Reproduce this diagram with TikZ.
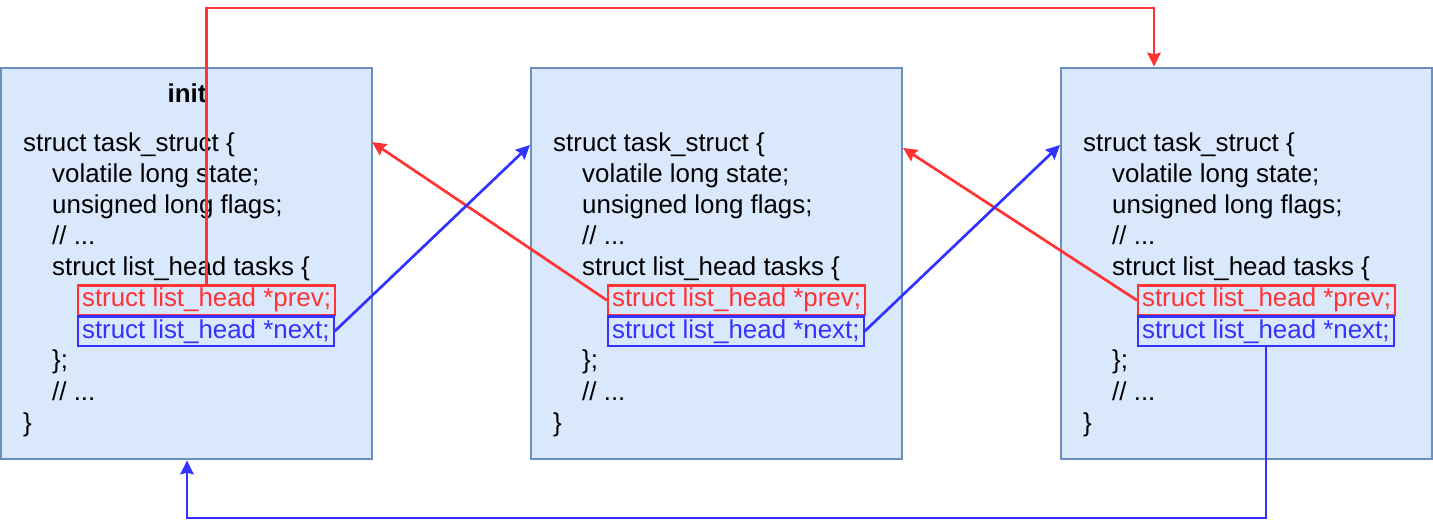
\documentclass[tikz,border=0pt]{standalone}
\usepackage{fontspec}
\setmainfont{Liberation Sans}
\usepackage[svgnames]{xcolor}
\usetikzlibrary{arrows.meta}
\definecolor{boxfill}{HTML}{DAE8FC}
\definecolor{boxline}{HTML}{6C8EBF}
\definecolor{prevred}{HTML}{FF3333}
\definecolor{nextblue}{HTML}{3333FF}

\begin{document}
\begin{tikzpicture}[scale=0.3]
\tikzstyle{every node}+=[inner sep=0pt, font=\fontsize{22.1}{26.5}\selectfont]
\tikzstyle{taskbox}=[draw=boxline, fill=boxfill, line width=2.3pt, minimum width=11.13cm, minimum height=11.73cm]
\tikzstyle{code}=[anchor=base west]
\tikzstyle{field}=[anchor=base west, line width=1.8pt, inner xsep=0.12cm, inner ysep=0.075cm, text height=16.2pt, text depth=4.8pt]
\tikzstyle{redline}=[prevred, line width=2.3pt, -{Stealth[length=0.42cm,width=0.4cm,inset=0.05cm]}]
\tikzstyle{blueline}=[nextblue, line width=2.3pt, -{Stealth[length=0.42cm,width=0.4cm,inset=0.05cm]}]
\useasboundingbox (0,0) rectangle (143.3,-52.9);
% the three task_struct boxes
\foreach \k/\x in {1/0,2/53,3/106} {
  \node [taskbox] (task\k) at (\x+18.65,-26.35) {};
  \node [code] (head\k) at (\x+2.3,-15.2) {struct task\_struct \{};
  \node [code] (state\k) at (\x+5.2,-18.3) {volatile long state;};
  \node [code] (flags\k) at (\x+5.2,-21.4) {unsigned long flags;};
  \node [code] (dotsa\k) at (\x+5.2,-24.5) {// ...};
  \node [code] (tasks\k) at (\x+5.2,-27.6) {struct list\_head tasks \{};
  \node [field, draw=prevred, text=prevred] (prev\k) at (\x+7.7,-30.7) {struct list\_head *prev;};
  \node [field, draw=nextblue, text=nextblue] (next\k) at (\x+7.7,-33.8) {struct list\_head *next;};
  \node [code] (close\k) at (\x+5.2,-36.9) {\};};
  \node [code] (dotsb\k) at (\x+5.2,-40.0) {// ...};
  \node [code] (end\k) at (\x+2.3,-43.1) {\}};
}
\node [anchor=base, font=\fontsize{22.1}{26.5}\selectfont\bfseries] (init) at (18.7,-10.3) {init};
% arrow ends on the box edges
\coordinate (rin1) at (37.2,-14.2);
\coordinate (rin2) at (90.3,-14.8);
\coordinate (nin2) at (53.0,-14.5);
\coordinate (nin3) at (106.0,-14.5);
\coordinate (rtop) at (115.4,-0.8);
\coordinate (bbot) at (18.7,-51.8);
% prev pointers
\draw [redline] (prev2.west) -- (rin1);
\draw [redline] (prev3.west) -- (rin2);
\draw [redline] (prev1.north) |- (rtop) -- (rtop |- task3.north);
% next pointers
\draw [blueline] (next1.east) -- (nin2);
\draw [blueline] (next2.east) -- (nin3);
\draw [blueline] (next3.south) |- (bbot) -- (bbot |- task1.south);
\end{tikzpicture}
\end{document}
